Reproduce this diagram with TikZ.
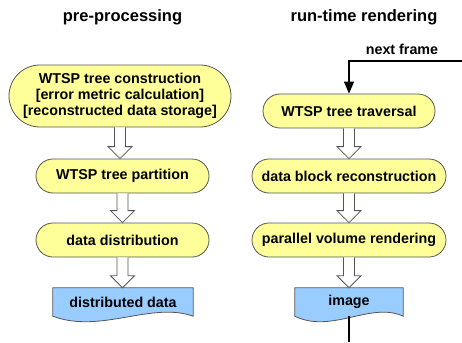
\documentclass[tikz,border=0pt]{standalone}
\usepackage{fontspec}
\setmainfont{Liberation Sans}
\usetikzlibrary{shapes.misc,calc,arrows.meta,backgrounds,positioning}
\definecolor{boxyellow}{HTML}{FFFF99}
\definecolor{docblue}{HTML}{99CCFF}
\definecolor{edgegray}{HTML}{555555}
% hollow block arrow from one node down to the next
\newcommand{\hollowarrow}[2]{%
  \draw[hollow] let \p1=(#1.south), \p2=(#2.north) in
    ({\x1-5.5pt},\y1) -- ({\x1-5.5pt},{\y2+12pt}) -- ({\x1-12pt},{\y2+12pt})
    -- (\x1,\y2) -- ({\x1+12pt},{\y2+12pt}) -- ({\x1+5.5pt},{\y2+12pt})
    -- ({\x1+5.5pt},\y1);}
% document outline with wavy bottom, behind its node
\newcommand{\docwave}[1]{%
  \begin{scope}[on background layer]
  \draw[docline] (#1.south west) -- (#1.north west) -- (#1.north east) -- (#1.south east)
    .. controls ($(#1.south east)!0.3!(#1.south west)+(0,-15)$)
    and ($(#1.south east)!0.66!(#1.south west)+(0,18)$) .. (#1.south west) -- cycle;
  \end{scope}}

\begin{document}
\begin{tikzpicture}[x=1pt,y=-1pt,
  font=\bfseries\fontsize{14.3}{16}\selectfont,
  title/.style={font=\bfseries\fontsize{16.5}{20}\selectfont},
  stepbox/.style={rounded rectangle, draw=edgegray, fill=boxyellow, line width=0.8pt,
    minimum height=34pt, inner sep=0pt, align=center},
  docbox/.style={inner sep=0pt, minimum height=28pt},
  docline/.style={draw=edgegray, fill=docblue, line width=0.8pt},
  hollow/.style={draw=edgegray, fill=white, line width=0.8pt, line join=miter}]
\useasboundingbox (0,0) rectangle (462,342);

% pre-processing
\node[title] (pretitle) at (122.5,17) {pre-processing};
\node[stepbox, minimum width=222pt, minimum height=62pt] (build) at (120,96)
  {WTSP tree construction\\{}[error metric calculation]\\{}[reconstructed data storage]};
\node[stepbox, minimum width=173pt] (part) at (122.5,176) {WTSP tree partition};
\node[stepbox, minimum width=173pt] (distr) at (122.5,240) {data distribution};
\node[docbox, minimum width=140pt] (ddata) at (123,302) {distributed data};
\docwave{ddata}

\hollowarrow{build}{part}
\hollowarrow{part}{distr}
\hollowarrow{distr}{ddata}

% run-time rendering
\node[title] (runtitle) at (364,17) {run-time rendering};
\node[stepbox, minimum width=172pt] (trav) at (349,111) {WTSP tree traversal};
\node[stepbox, minimum width=194pt] (recon) at (349,176) {data block reconstruction};
\node[stepbox, minimum width=194pt] (render) at (349,240) {parallel volume rendering};
\node[docbox, minimum width=108pt] (img) at (349,302) {image};
\docwave{img}

\hollowarrow{trav}{recon}
\hollowarrow{recon}{render}
\hollowarrow{render}{img}

\coordinate (loopin) at (462,61);
\coordinate (loopout) at (349,342);
\node (nextlbl) at (402,49) {next frame};
\draw[line width=1.1pt, -{Triangle[length=12pt,width=10pt]}] (loopin) -| (trav.north);
\draw[line width=1.1pt] (img.south) -- (loopout);
\end{tikzpicture}
\end{document}
